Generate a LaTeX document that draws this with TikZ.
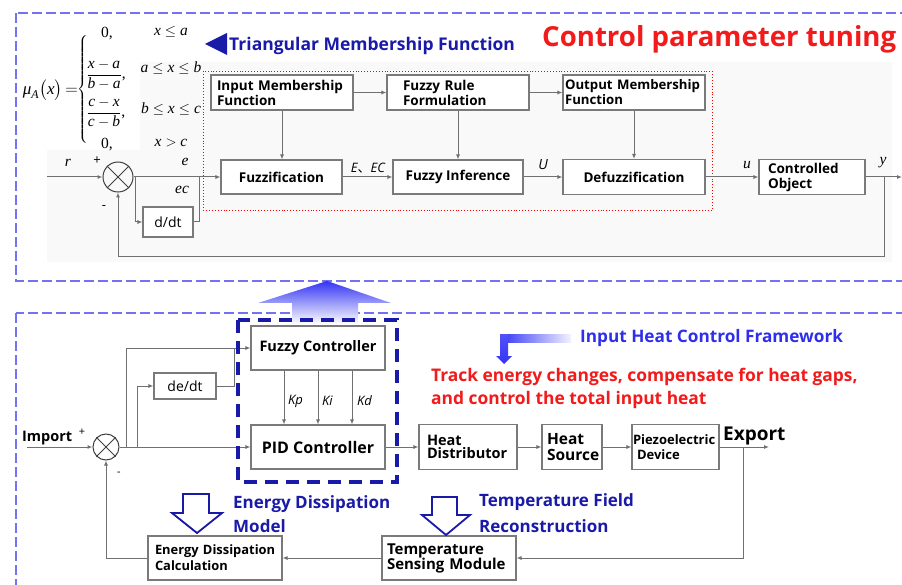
\documentclass[tikz,border=0pt]{standalone}
\usepackage{amsmath}
\usepackage[no-math]{fontspec}
\setmainfont{Open Sans}
\newfontfamily\cjk{Noto Sans CJK SC}
\newfontfamily\tms{Liberation Serif}
\newcommand\tx[1]{\text{\tms\itshape #1}}
\newcommand\tu[1]{\text{\tms #1}}
\usetikzlibrary{arrows.meta}
\definecolor{panelblue}{HTML}{7373F2}
\definecolor{navy}{HTML}{1A1AA8}
\definecolor{boxgray}{HTML}{7A7A7A}
\definecolor{linegray}{HTML}{707070}
\definecolor{bblue}{HTML}{2E2EEB}
\definecolor{rred}{HTML}{F21A1A}
\definecolor{arrblue}{HTML}{3434F5}
\begin{document}
\begin{tikzpicture}[x=1pt,y=-1pt,
  font=\fontsize{13}{15}\selectfont,
  blk/.style={draw=boxgray,line width=1.1pt,fill=white,inner sep=0pt,font=\bfseries\fontsize{13.5}{15}\selectfont,align=center},
  lblk/.style 2 args={blk,align=left,inner xsep=#1,text width=#2},
  ln/.style={draw=linegray,line width=1pt},
  arr/.style={ln,-{Latex[length=5pt,width=4pt]}},
  sj/.style={circle,draw=black!75,line width=1pt,inner sep=0pt},
  panel/.style={draw=panelblue,line width=1.4pt,dash pattern=on 10pt off 4pt},
  hollow/.style={draw=navy,line width=1.8pt,fill=white,line join=miter},
  lab/.style={inner sep=0pt},
  mth/.style={lab,font=\fontsize{15.5}{15}\selectfont},
  blab/.style={lab,anchor=base west,font=\bfseries\fontsize{17}{20}\selectfont},
]
\useasboundingbox (0,0) rectangle (902,585);
\fill[white] (0,0) rectangle (902,585);
% panels
\fill[black!2.5] (140,62) rectangle (892,262);
\fill[black!2.5] (47,150) rectangle (140,262);
\draw[panel] (16,13) rectangle (930,281);
\draw[panel] (16,313) rectangle (930,600);

% ---------- formula ----------
\node[mth,anchor=east,font=\fontsize{17}{17}\selectfont] (muA) at (78,90) {$\tx{μ}_{\tx{A}}\bigl(\tx{x}\bigr)\mkern-2mu=$};
\node[lab,anchor=west] (brace) at (77,90) {$\left\{\vrule height 52pt depth 52pt width 0pt\right.$};
\node[mth] (r1a) at (107,34) {$\tu{0,}$};
\node[mth] (r1b) at (171,32) {$\tx{x}\le\tx{a}$};
\node[mth] (r2a) at (106,75) {$\dfrac{\tx{x}-\tx{a}}{\tx{b}-\tx{a}}\tu{,}$};
\node[mth] (r2b) at (171,68) {$\tx{a}\le\tx{x}\le\tx{b}$};
\node[mth] (r3a) at (106,113) {$\dfrac{\tx{c}-\tx{x}}{\tx{c}-\tx{b}}\tu{,}$};
\node[mth] (r3b) at (171,109) {$\tx{b}\le\tx{x}\le\tx{c}$};
\node[mth] (r4a) at (107,145) {$\tu{0,}$};
\node[mth] (r4b) at (171,143) {$\tx{x}>\tx{c}$};

% ---------- titles ----------
\fill[navy] (205,44) -- (227,33) -- (227,55) -- cycle;
\node[blab,text=navy,font=\bfseries\fontsize{17.5}{20}\selectfont] (tmf) at (229,51) {Triangular Membership Function};
\node[blab,text=rred,font=\bfseries\fontsize{27.6}{30}\selectfont] (cpt) at (542,47) {Control parameter tuning};

\draw[red,dotted,line width=0.9pt] (203,71) rectangle (712,210);

% ---------- top boxes ----------
\node[lblk={6pt}{130pt},minimum height=35] (imf) at (282,92.5) {\mbox{Input Membership}\\\mbox{Function}};
\node[lblk={16pt}{110pt},minimum height=35] (frf) at (458,92.5) {\mbox{Fuzzy Rule}\\\mbox{Formulation}};
\node[lblk={2pt}{138pt},minimum height=35,font=\bfseries\fontsize{13.2}{15}\selectfont] (omf) at (634,92.5) {\mbox{Output Membership}\\\mbox{Function}};
\node[blk,minimum width=121,minimum height=34] (fuz) at (281.5,177) {Fuzzification};
\node[blk,minimum width=130,minimum height=34] (fin) at (458,177) {Fuzzy~Inference};
\node[blk,minimum width=142,minimum height=35] (dfz) at (634,177) {Defuzzification};
\node[lblk={9pt}{88pt},minimum height=35] (cob) at (812,177) {\mbox{Controlled}\\\mbox{Object}};
\node[blk,minimum width=50,minimum height=30,font=\fontsize{14}{16}\selectfont] (dd) at (168,222) {d/dt};
\node[sj,minimum size=30] (s1) at (118,177) {};
\draw[black!75,line width=1pt] (s1.north east) -- (s1.south west) (s1.north west) -- (s1.south east);

% ---------- top connectors ----------
\coordinate (rin) at (47,177);
\coordinate (yout) at (902,177);
\coordinate (fb1) at (884,177);
\coordinate (fb1b) at (884,257);
\coordinate (br1) at (135,177);
\coordinate (j1) at (199,177);
\draw[arr] (rin) -- (s1);
\draw[arr] (s1) -- (fuz);
\draw[arr] (fuz) -- (fin);
\draw[arr] (fin) -- (dfz);
\draw[arr] (dfz) -- (cob);
\draw[arr] (cob) -- (yout);
\draw[arr] (fb1) -- (fb1b) -| (s1);
\draw[arr] (br1) |- (dd);
\draw[ln] (dd) -| (j1);
\draw[arr] (imf) -- (frf);
\draw[arr] (frf) -- (omf);
\draw[arr] (imf.south) -- (imf.south |- fuz.north);
\draw[arr] (frf.south) -- (frf.south |- fin.north);
\draw[arr] (omf.south) -- (omf.south |- dfz.north);

\node[mth] (lr) at (68,163) {$\tx{r}$};
\node[lab] (lp1) at (97,161) {+};
\node[lab] (lm1) at (104,208) {-};
\node[mth] (le) at (185,162) {$\tx{e}$};
\node[mth] (lec) at (182,190) {$\tx{ec}$};
\node[lab,font=\itshape\fontsize{13}{13}\selectfont] (lE) at (368,168) {E{\cjk\upshape 、}EC};
\node[lab,font=\itshape\fontsize{14}{14}\selectfont] (lU) at (543,165) {U};
\node[mth] (lu) at (747,165) {$\tx{u}$};
\node[mth] (ly) at (883,163) {$\tx{y}$};

% ---------- bottom ----------
\shade[top color=arrblue, bottom color=white] (292,324) -- (292,303) -- (258,303) -- (327,281) -- (391,303) -- (358,303) -- (358,324) -- cycle;

\node[blk,minimum width=134,minimum height=44,font=\bfseries\fontsize{14.5}{16}\selectfont] (fc) at (318,348) {Fuzzy~Controller};
\node[blk,minimum width=134,minimum height=44,font=\bfseries\fontsize{16}{18}\selectfont] (pid) at (318,447) {PID~Controller};
\node[blk,minimum width=62,minimum height=26,font=\fontsize{14}{16}\selectfont] (dedt) at (185,386) {de/dt};
\node[lblk={8pt}{82pt},minimum height=45,font=\bfseries\fontsize{14.5}{13}\selectfont] (hd) at (468,447) {\mbox{Heat}\\\mbox{Distributor}};
\node[lblk={5pt}{50pt},minimum height=45,font=\bfseries\fontsize{15.5}{16}\selectfont] (hs) at (572,447) {\mbox{Heat}\\\mbox{Source}};
\node[lblk={1pt}{85pt},minimum height=45,font=\bfseries\fontsize{13}{15}\selectfont] (pz) at (675.5,447) {\mbox{Piezoelectric}\\\mbox{\hspace*{4pt}Device}};
\node[lblk={7pt}{120pt},minimum height=44,font=\bfseries\fontsize{12.9}{16}\selectfont] (edc) at (215,558) {\mbox{Energy Dissipation}\\\mbox{Calculation}};
\node[lblk={5pt}{124pt},minimum height=44,font=\bfseries\fontsize{15}{15}\selectfont] (tsm) at (449,558) {\mbox{Temperature}\\\mbox{Sensing Module}};
\node[sj,minimum size=26] (s2) at (106,447) {};
\draw[black!75,line width=1pt] (s2.north east) -- (s2.south west) (s2.north west) -- (s2.south east);

\coordinate (imp) at (27,447);
\coordinate (br2) at (126,447);
\coordinate (br3) at (137,447);
\coordinate (j2) at (234,348);
\coordinate (exp) at (769,447);
\coordinate (fb2) at (743,447);
\coordinate (fb2b) at (743,558);
\draw[arr] (imp) -- (s2);
\draw[arr] (s2) -- (pid);
\draw[arr] (br2) |- (fc);
\draw[arr] (br3) |- (dedt);
\draw[ln] (dedt) -| (j2);
\draw[arr] ([xshift=-34pt]fc.south) -- ([xshift=-34pt]pid.north);
\draw[arr] (fc.south) -- (pid.north);
\draw[arr] ([xshift=34pt]fc.south) -- ([xshift=34pt]pid.north);
\draw[arr] (pid) -- (hd);
\draw[arr] (hd) -- (hs);
\draw[arr] (hs) -- (pz);
\draw[arr] (pz) -- (exp);
\draw[arr] (fb2) -- (fb2b) -- (tsm);
\draw[arr] (tsm) -- (edc);
\draw[arr] (edc) -| (s2);

\draw[navy,line width=4pt,dash pattern=on 13pt off 8pt] (238,320) rectangle (397,482);

\node[lab,anchor=west,font=\itshape\fontsize{13}{13}\selectfont] (kp) at (288,401) {Kp};
\node[lab,anchor=west,font=\itshape\fontsize{13}{13}\selectfont] (ki) at (322,401) {Ki};
\node[lab,anchor=west,font=\itshape\fontsize{13}{13}\selectfont] (kd) at (357,401) {Kd};

\node[blab,font=\bfseries\fontsize{14.5}{15}\selectfont] (limp) at (22,441) {Import};
\node[lab,font=\fontsize{11}{11}\selectfont] (lp2) at (82,432) {+};
\node[lab,font=\fontsize{11}{11}\selectfont] (lm2) at (119,474) {-};
\node[blab,font=\bfseries\fontsize{19}{20}\selectfont] (lexp) at (723,440) {Export};

% hollow arrows
\draw[hollow] (183,494) -- (209,494) -- (209,513) -- (222,513) -- (197,533) -- (172,513) -- (183,513) -- cycle;
\draw[hollow] (432,497) -- (457,497) -- (457,515) -- (470,515) -- (446,535) -- (422,515) -- (432,515) -- cycle;
\node[blab,text=navy] (edm1) at (233,508) {Energy Dissipation};
\node[blab,text=navy] (edm2) at (233,532) {Model};
\node[blab,text=navy] (tfr1) at (479,506) {Temperature Field};
\node[blab,text=navy] (tfr2) at (479,532) {Reconstruction};

% input heat control framework
\shade[left color=arrblue, right color=arrblue!6] (500,334) rectangle (571,342);
\shade[top color=arrblue!85, bottom color=arrblue] (500,334) -- (508,334) -- (508,356) -- (512,356) -- (504,364) -- (496,356) -- (500,356) -- cycle;
\node[blab,text=bblue,font=\bfseries\fontsize{17.2}{20}\selectfont] (ihcf) at (580,342) {Input Heat Control Framework};
\node[blab,text=rred,font=\bfseries\fontsize{17.4}{20}\selectfont] (trk1) at (431,381) {Track energy changes, compensate for heat gaps,};
\node[blab,text=rred,font=\bfseries\fontsize{17.4}{20}\selectfont] (trk2) at (431,404) {and control the total input heat};
\end{tikzpicture}
\end{document}
